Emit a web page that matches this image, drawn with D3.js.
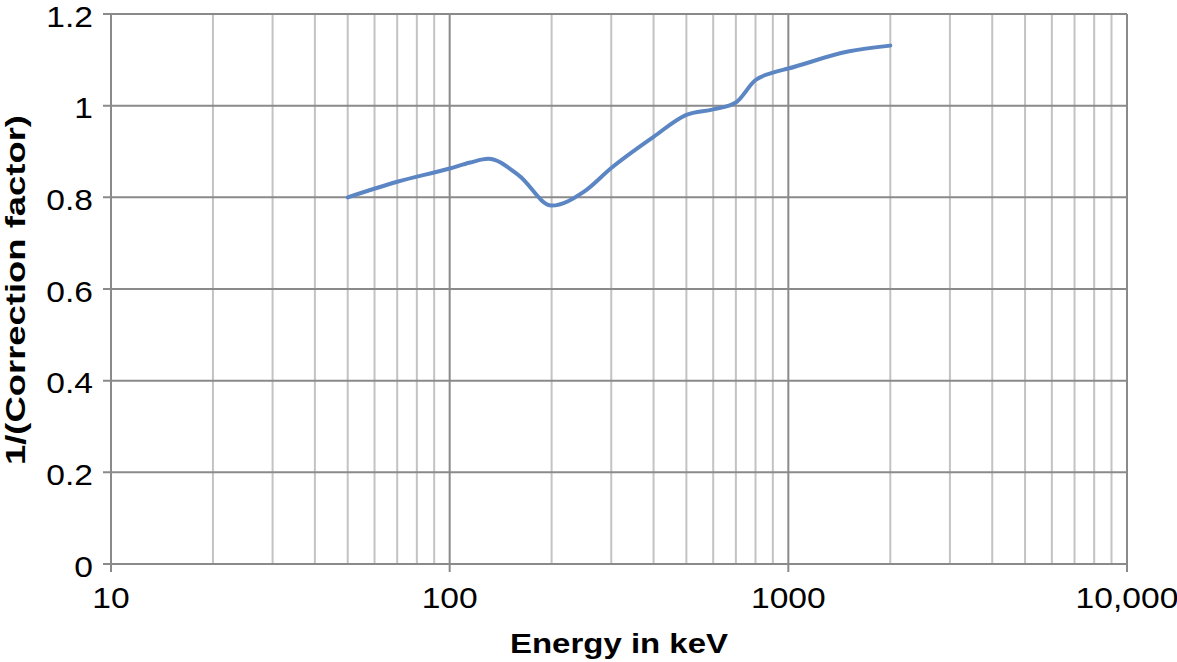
<!DOCTYPE html>
<html><head><meta charset="utf-8">
<script src="https://cdn.jsdelivr.net/npm/d3@7/dist/d3.min.js"></script>
<style>body{margin:0;background:#fff}svg{display:block}</style>
</head><body>
<svg id="c" width="1177" height="662"></svg>
<script>
const energy = [50, 70, 100, 115, 130, 160, 200, 250, 300, 400, 500, 600, 700, 800, 900, 1000, 1500, 2000];
const factor = [0.80, 0.834, 0.863, 0.876, 0.884, 0.848, 0.782, 0.813, 0.864, 0.932, 0.980, 0.992, 1.007, 1.056, 1.072, 1.081, 1.118, 1.131];
const xTickValues = [10, 100, 1000, 10000];
const xTickLabels = ["10", "100", "1000", "10,000"];
const yTickValues = [0, 0.2, 0.4, 0.6, 0.8, 1.0, 1.2];
const yTickLabels = ["0", "0.2", "0.4", "0.6", "0.8", "1", "1.2"];

const svg = d3.select("#c");
const x = d3.scaleLog().domain([10, 10000]).range([111, 1127]);
const y = d3.scaleLinear().domain([0, 1.2]).range([564, 14]);
const font = "'Liberation Sans', Arial, sans-serif";

// minor vertical gridlines
const minors = [];
[10, 100, 1000].forEach(d => { for (let k = 2; k <= 9; k++) minors.push(d * k); });
svg.append("g").selectAll("line").data(minors).join("line")
  .attr("x1", d => x(d)).attr("x2", d => x(d))
  .attr("y1", y(1.2)).attr("y2", y(0))
  .attr("stroke", "#c3c3c3").attr("stroke-width", 2);

// major vertical gridlines
svg.append("g").selectAll("line").data(xTickValues).join("line")
  .attr("x1", d => x(d)).attr("x2", d => x(d))
  .attr("y1", y(1.2)).attr("y2", y(0) + 8)
  .attr("stroke", "#8a8a8a").attr("stroke-width", 2);

// horizontal gridlines
svg.append("g").selectAll("line").data(yTickValues).join("line")
  .attr("x1", x(10) - 8).attr("x2", x(10000))
  .attr("y1", d => y(d)).attr("y2", d => y(d))
  .attr("stroke", "#8a8a8a").attr("stroke-width", 2);

// y tick labels
svg.append("g").selectAll("text").data(yTickValues).join("text")
  .attr("transform", d => `translate(93,${y(d)}) scale(1.12,1)`)
  .attr("dy", "0.42em")
  .attr("text-anchor", "end")
  .attr("font-family", font).attr("font-size", 30).attr("fill", "#000")
  .text((d, i) => yTickLabels[i]);

// x tick labels
svg.append("g").selectAll("text").data(xTickValues).join("text")
  .attr("transform", d => `translate(${x(d)},608) scale(1.12,1)`)
  .attr("text-anchor", "middle")
  .attr("font-family", font).attr("font-size", 30).attr("fill", "#000")
  .text((d, i) => xTickLabels[i]);

// curve
const line = d3.line()
  .x((d, i) => x(energy[i]))
  .y((d, i) => y(factor[i]))
  .curve(d3.curveMonotoneX);
svg.append("path").datum(factor)
  .attr("d", line)
  .attr("fill", "none")
  .attr("stroke", "#5b86c3")
  .attr("stroke-width", 4)
  .attr("stroke-linecap", "round")
  .attr("stroke-linejoin", "round");

// axis titles
svg.append("text")
  .attr("x", 619).attr("y", 653)
  .attr("text-anchor", "middle")
  .attr("font-family", font).attr("font-size", 28).attr("font-weight", "bold")
  .attr("textLength", 218).attr("lengthAdjust", "spacingAndGlyphs")
  .text("Energy in keV");

svg.append("text")
  .attr("transform", "translate(25,290) rotate(-90)")
  .attr("text-anchor", "middle")
  .attr("font-family", font).attr("font-size", 28).attr("font-weight", "bold")
  .attr("textLength", 350).attr("lengthAdjust", "spacingAndGlyphs")
  .text("1/(Correction factor)");
</script>
</body></html>
